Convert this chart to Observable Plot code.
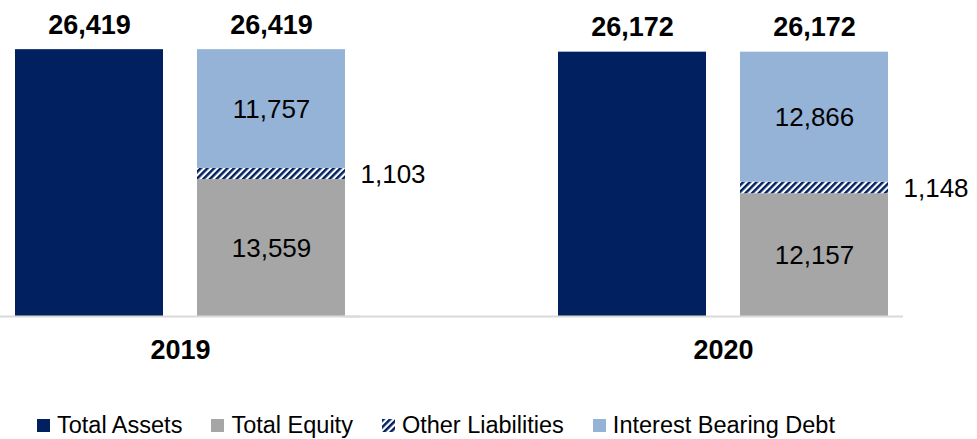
<!DOCTYPE html>
<html><head><meta charset="utf-8">
<script src="https://cdn.jsdelivr.net/npm/d3@7"></script>
<script src="https://cdn.jsdelivr.net/npm/@observablehq/plot@0.6"></script>
<style>
body{margin:0;background:#fff;font-family:"Liberation Sans",Arial,sans-serif;}
#chart{position:relative;width:977px;height:439px;overflow:hidden;}
#chart svg{display:block;}
.legend{display:flex;align-items:center;margin-left:37px;margin-top:12px;font-size:23.5px;line-height:26px;color:#000;white-space:nowrap;}
.item{display:flex;align-items:center;margin-right:29px;}
.key{width:13px;height:13px;margin-right:7px;display:block;}
</style></head><body><div id="chart"></div>
<script>
const years = ["2019", "2020"];
const bars = ["Assets", "Liabilities & Equity"];
const seriesNames = ["Total Assets", "Total Equity", "Other Liabilities", "Interest Bearing Debt"];
const totalAssets = [26419, 26172];
const totalEquity = [13559, 12157];
const otherLiabilities = [1103, 1148];
const interestBearingDebt = [11757, 12866];

const rows = [];
years.forEach((year, i) => {
  rows.push({year, bar: bars[0], series: seriesNames[0], value: totalAssets[i]});
  rows.push({year, bar: bars[1], series: seriesNames[1], value: totalEquity[i]});
  rows.push({year, bar: bars[1], series: seriesNames[2], value: otherLiabilities[i]});
  rows.push({year, bar: bars[1], series: seriesNames[3], value: interestBearingDebt[i]});
});
const totals = years.flatMap((year, i) => bars.map(bar => ({year, bar, value: totalAssets[i]})));
const fmt = d3.format(",");
const colors = ["#002060", "#a6a6a6", "url(#hatch)", "#95b3d7"];

const inner = new Set(["Total Equity", "Interest Bearing Debt"]);
const plot = Plot.plot({
  width: 977, height: 400,
  marginLeft: 0, marginRight: 74, marginTop: 13, marginBottom: 84,
  style: {fontFamily: '"Liberation Sans", Arial, sans-serif', color: "#000", background: "transparent", overflow: "visible"},
  fx: {domain: years, paddingInner: 0.393, paddingOuter: 0.0275, label: null},
  x: {domain: bars, paddingInner: 0.187, paddingOuter: 0, axis: null},
  y: {domain: [0, 30000], axis: null},
  color: {domain: seriesNames, range: colors},
  marks: [
    Plot.barY(rows, Plot.stackY({x: "bar", fx: "year", y: "value", fill: "series", order: seriesNames})),
    Plot.ruleY([0], {stroke: "#d9d9d9", strokeWidth: 2, insetLeft: -215, insetRight: -15}),
    Plot.text(rows, Plot.stackY({x: "bar", fx: "year", y: "value", z: "series", order: seriesNames,
      text: d => inner.has(d.series) ? fmt(d.value) : null, fontSize: 26, fill: "#000", dy: 1})),
    Plot.text(rows, Plot.stackY({x: "bar", fx: "year", y: "value", z: "series", order: seriesNames,
      text: d => d.series === "Other Liabilities" ? fmt(d.value) : null, fontSize: 26, fill: "#000",
      textAnchor: "start", dx: 89, dy: 1})),
    Plot.text(totals, {x: "bar", fx: "year", y: "value", text: d => fmt(d.value), fontSize: 27,
      fontWeight: "bold", lineAnchor: "bottom", dy: -16, fill: "#000"}),
    Plot.axisFx({anchor: "bottom", tickSize: 0, tickPadding: 23, fontSize: 27, fontWeight: "bold", label: null})
  ]
});

const defs = d3.select(plot).insert("defs", ":first-child");
const pat = defs.append("pattern").attr("id", "hatch").attr("patternUnits", "userSpaceOnUse")
  .attr("width", 4.7).attr("height", 4.7).attr("patternTransform", "rotate(45)");
pat.append("rect").attr("width", 4.7).attr("height", 4.7).attr("fill", "#fff");
pat.append("rect").attr("width", 2.5).attr("height", 4.7).attr("fill", "#002060");

const chart = document.getElementById("chart");
chart.appendChild(plot);

const legend = d3.select(chart).append("div").attr("class", "legend");
seriesNames.forEach((name, i) => {
  const item = legend.append("div").attr("class", "item");
  const key = item.append("svg").attr("class", "key").attr("width", 13).attr("height", 13);
  key.append("rect").attr("width", 13).attr("height", 13).attr("fill", colors[i]);
  item.append("span").text(name);
});
</script></body></html>
